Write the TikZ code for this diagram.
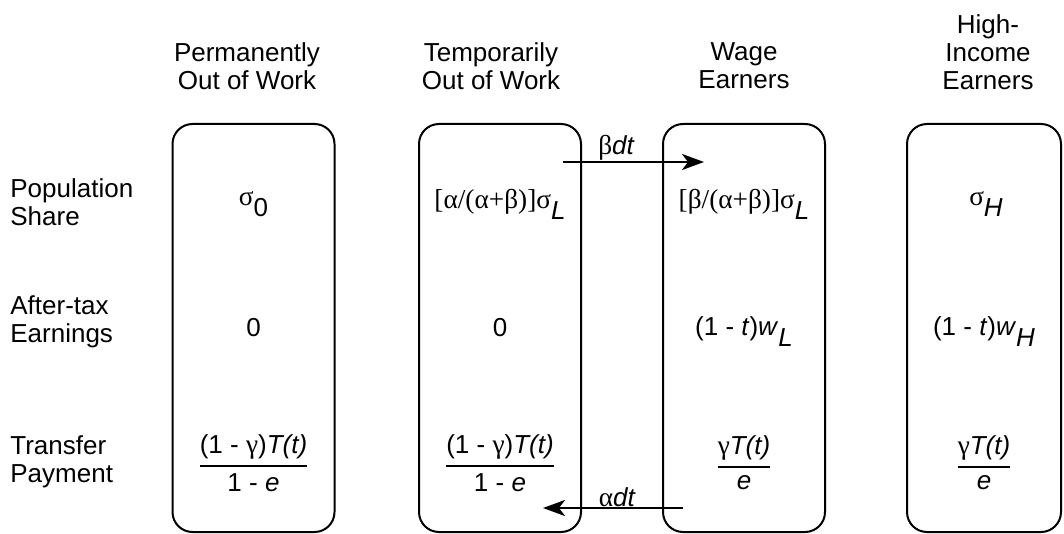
\documentclass[tikz,border=0pt]{standalone}
\usepackage{fontspec}
\usepackage{amsmath}
\setmainfont{Liberation Sans}
\newfontfamily\greekfont[Scale=1.05]{Liberation Serif}
\usetikzlibrary{arrows.meta}
\newcommand\gk[1]{{\greekfont #1}}
\newcommand\lowsub[1]{\raisebox{-0.8ex}{#1}}
\newcommand\bigfrac[2]{$\genfrac{}{}{1pt}{0}{\text{#1}}{\text{#2}}$}
\tikzset{
  group/.style={draw, line width=1pt, rounded corners=10pt,
    minimum width=81pt, minimum height=204pt},
  txt/.style={font=\fontsize{13}{14}\selectfont, inner sep=1pt},
  heading/.style={txt, align=center},
  rowlabel/.style={txt, align=left, anchor=west},
  flow/.style={-{Stealth[length=11pt,width=8pt,inset=3pt]}, line width=1.3pt},
}
\begin{document}
\begin{tikzpicture}[x=0.5pt,y=-0.5pt]
  \useasboundingbox (0,0) rectangle (1064,534);
  % groups
  \node[group] (perm) at (253.5,328) {};
  \node[group] (temp) at (500,328)   {};
  \node[group] (wage) at (744,328)   {};
  \node[group, minimum width=77pt] (high) at (984,328) {};
  % headings
  \node[heading] (hperm) at (247,66) {Permanently\\Out of Work};
  \node[heading] (htemp) at (491,66) {Temporarily\\Out of Work};
  \node[heading] (hwage) at (744,66) {Wage\\Earners};
  \node[heading] (hhigh) at (988,52) {High-\\Income\\Earners};
  % row labels
  \node[rowlabel] (rshare)    at (8,202) {Population\\Share};
  \node[rowlabel] (rearn)     at (8,322) {After-tax\\Earnings};
  \node[rowlabel] (rtransfer) at (8,462) {Transfer\\Payment};
  % population shares
  \node[txt] (sperm) at (253.5,204) {\gk{σ}\lowsub{0}};
  \node[txt] (stemp) at (500,204)   {\gk{[α/(α+β)]σ}\lowsub{\itshape L}};
  \node[txt] (swage) at (744,204)   {\gk{[β/(α+β)]σ}\lowsub{\itshape L}};
  \node[txt] (shigh) at (986,204)   {\gk{σ}\lowsub{\itshape H}};
  % after-tax earnings
  \node[txt] (eperm) at (253.5,328) {0};
  \node[txt] (etemp) at (500,328)   {0};
  \node[txt] (ewage) at (744,332)   {(1 - \textit{t})\textit{w}\lowsub{\itshape L}};
  \node[txt] (ehigh) at (984,332)   {(1 - \textit{t})\textit{w}\lowsub{\itshape H}};
  % transfer payments
  \node[txt] (tperm) at (253.5,463) {\bigfrac{(1 - \gk{γ})\textit{T(t)}}{1 - \textit{e}}};
  \node[txt] (ttemp) at (500,463)   {\bigfrac{(1 - \gk{γ})\textit{T(t)}}{1 - \textit{e}}};
  \node[txt] (twage) at (744,463)   {\bigfrac{\gk{γ}\textit{T(t)}}{\textit{e}}};
  \node[txt] (thigh) at (984,463)   {\bigfrac{\gk{γ}\textit{T(t)}}{\textit{e}}};
  % flows between temporarily out of work and wage earners
  \coordinate (upfrom) at (563,162);
  \coordinate (upto)   at (704,162);
  \coordinate (dnfrom) at (683,508);
  \coordinate (dnto)   at (543,508);
  \draw[flow] (upfrom) -- (upto) node[txt, pos=0.38, above=-1pt] {\gk{β}\textit{dt}};
  \draw[flow] (dnfrom) -- (dnto) node[txt, pos=0.47, above=-1pt] {\gk{α}\textit{dt}};
\end{tikzpicture}
\end{document}
